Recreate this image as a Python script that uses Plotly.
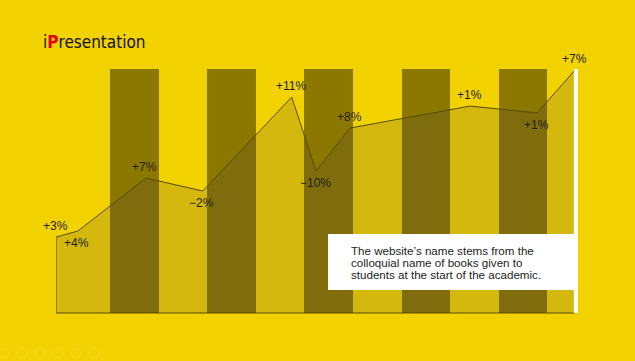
import plotly.graph_objects as go

# ---- data ----
point_x = [-0.11, 0.34, 1.74, 2.91, 4.74, 5.24, 5.94, 8.41, 9.79, 10.57]
point_y = [31.1, 33.6, 55.3, 50.0, 88.5, 58.2, 75.8, 84.8, 82.0, 99.6]
point_labels = ["+3%", "+4%", "+7%", "\u22122%", "+11%", "\u221210%", "+8%", "+1%", "+1%", "+7%"]
label_side = ["up", "down", "up", "down", "up", "down", "up", "up", "down", "up"]
band_x = [1.5, 3.5, 5.5, 7.5, 9.5]
band_h = [100, 100, 100, 100, 100]
note_lines = ["The website\u2019s name stems from the",
              "colloquial name of books given to",
              "students at the start of the academic."]

# ---- layout geometry ----
W, H = 635, 361
x_rng = [-0.11, 10.7]
x_px0, unit_x = 56.0, 48.6
y_rng = [-0.6, 100]
y_px_top, unit_y = 69.0, 2.44
x_px1 = x_px0 + (x_rng[1] - x_rng[0]) * unit_x
y_px_bot = y_px_top + (y_rng[1] - y_rng[0]) * unit_y

BG = "#F2D200"
DARK = "#8C7800"
TXT = "#222222"

fig = go.Figure()
fig.add_trace(go.Bar(x=band_x, y=band_h, width=1.0, marker=dict(color=DARK, line=dict(width=0)),
                     hoverinfo="skip", showlegend=False))
fig.add_trace(go.Scatter(
    x=point_x + [point_x[-1], point_x[0], point_x[0]],
    y=point_y + [0, 0, point_y[0]],
    mode="lines", fill="toself", fillcolor="rgba(45,38,85,0.15)",
    line=dict(color="#5A4B00", width=1), hoverinfo="skip", showlegend=False))

# white edge bar at the right end of the area
fig.add_shape(type="rect", xref="x", yref="y", x0=point_x[-1] - 0.025, x1=point_x[-1] + 0.06,
              y0=0, y1=max(band_h), fillcolor="white", line=dict(width=0), layer="above")

for x, y, t, s in zip(point_x, point_y, point_labels, label_side):
    fig.add_annotation(x=x, y=y, xref="x", yref="y", text=t, showarrow=False,
                       yshift=11 if s == "up" else -12, xshift=-1,
                       font=dict(family="Liberation Sans, Arial", size=12, color=TXT))

# note box
fig.add_shape(type="rect", xref="paper", yref="paper", x0=328 / W, x1=574 / W,
              y0=1 - 290 / H, y1=1 - 234 / H, fillcolor="white", line=dict(width=0), layer="above")
for i, line in enumerate(note_lines):
    fig.add_annotation(xref="paper", yref="paper", x=349 / W, y=1 - (250 + 12 * i) / H,
                       xanchor="left", yanchor="middle", text=line, align="left", showarrow=False,
                       font=dict(family="Liberation Sans, Arial", size=11.6, color=TXT))

# logo
fig.add_annotation(xref="paper", yref="paper", x=41 / W, y=1 - 42 / H, xanchor="left", yanchor="middle",
                   text="i<b><span style='color:#E60012'>P</span></b>resentation", showarrow=False,
                   font=dict(family="DejaVu Sans Condensed, Liberation Sans", size=17, color="#111111"))

# faint toolbar icons bottom-left
for cx in [4, 22, 40, 58, 76, 94]:
    fig.add_shape(type="circle", xref="paper", yref="paper", x0=(cx - 5) / W, x1=(cx + 5) / W,
                  y0=1 - 358 / H, y1=1 - 348 / H, line=dict(color="rgba(255,255,255,0.15)", width=1))

fig.update_layout(
    width=W, height=H, margin=dict(l=0, r=0, t=0, b=0),
    paper_bgcolor=BG, plot_bgcolor="rgba(0,0,0,0)",
    xaxis=dict(range=x_rng, domain=[x_px0 / W, x_px1 / W], visible=False, fixedrange=True),
    yaxis=dict(range=y_rng, domain=[1 - y_px_bot / H, 1 - y_px_top / H], visible=False, fixedrange=True),
    bargap=0, showlegend=False,
)
fig.write_html("out.html")
